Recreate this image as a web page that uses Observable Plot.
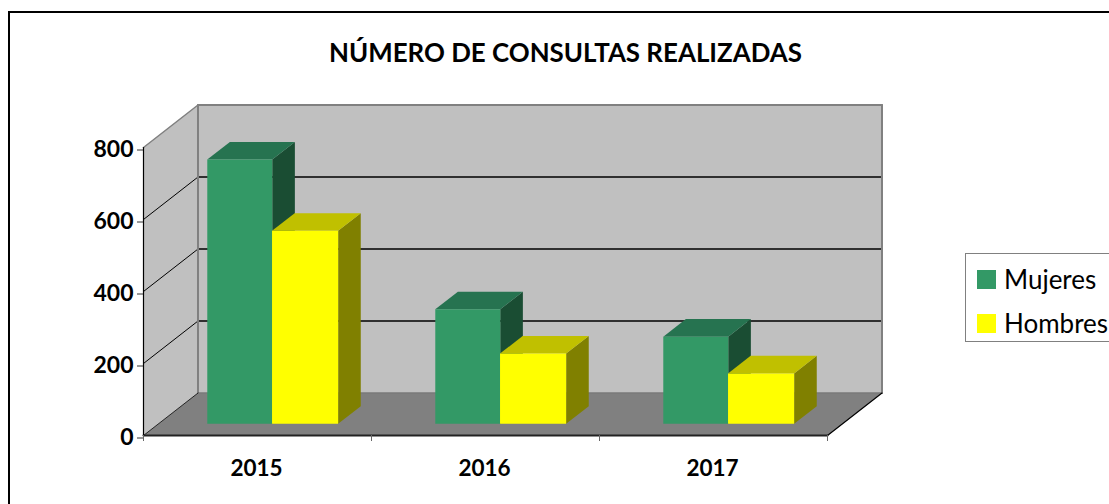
<!DOCTYPE html>
<html lang="es">
<head>
<meta charset="utf-8">
<script src="https://cdn.jsdelivr.net/npm/d3@7"></script>
<script src="https://cdn.jsdelivr.net/npm/@observablehq/plot@0.6"></script>
<style>
  html, body { margin: 0; padding: 0; background: #fff; overflow: hidden; }
  #frame { position: relative; width: 1109px; height: 504px; overflow: hidden; font-family: Lato, sans-serif; color: #000; }
  #edge { position: absolute; left: 8px; top: 11px; right: -4px; bottom: -4px; border: 2px solid #000; }
  #title { position: absolute; left: 0; top: 0; width: 1131px; height: 88px; line-height: 104px; text-align: center; font-weight: 700; font-size: 25.9px; }
  #chart { position: absolute; left: 0; top: 88px; }
  #legend { position: absolute; left: 965px; top: 253px; width: 160px; height: 89px; border: 1px solid #808080; background: #fff; box-sizing: border-box; font-size: 26px; }
  .key { position: absolute; left: 11px; display: flex; align-items: center; gap: 8px; height: 30px; white-space: nowrap; }
  .swatch { width: 19px; height: 19px; display: inline-block; }
</style>
</head>
<body>
<div id="frame">
  <div id="edge"></div>
  <div id="title">NÚMERO DE CONSULTAS REALIZADAS</div>
  <div id="chart"></div>
  <div id="legend"></div>
</div>
<script>
const categories = ["2015", "2016", "2017"];
const mujeres = [734, 318, 242];
const hombres = [536, 195, 140];
const tickValues = [0, 200, 400, 600, 800];
const seriesNames = ["Mujeres", "Hombres"];
const frontColors = ["#339966", "#ffff00"];
const topColors = ["#267350", "#c0c000"];
const sideColors = ["#1a4d33", "#808000"];

// Oblique projection: depth (0..1) shifts a point along x and y in data units.
const depthX = 0.239, depthY = 118;
const project = (x, v, d = 0) => ({x: x + d * depthX, y: v + d * depthY});
const barFront = 0.275, barBack = 0.69;
const barStart = 0.214, barWidth = 0.285;
const xMax = categories.length, vMax = tickValues[tickValues.length - 1];

const face = (pts, fill, stroke = "none", strokeWidth = 1) => Plot.line(
  [...pts, pts[0]], {x: "x", y: "y", fill, stroke, strokeWidth, curve: "linear"}
);
const edge = (a, b, stroke, strokeWidth = 1) => Plot.line([a, b], {x: "x", y: "y", stroke, strokeWidth});

function barMarks(cat, s, value) {
  const x0 = cat + barStart + s * barWidth - (s ? 0.001 : 0);
  const x1 = x0 + barWidth + (s ? 0.005 : 0);
  return [
    face([project(x1, 0, barFront), project(x1, 0, barBack), project(x1, value, barBack), project(x1, value, barFront)], sideColors[s]),
    face([project(x0, value, barFront), project(x1, value, barFront), project(x1, value, barBack), project(x0, value, barBack)], topColors[s]),
    face([project(x0, 0, barFront), project(x1, 0, barFront), project(x1, value, barFront), project(x0, value, barFront)], frontColors[s])
  ];
}

const wallMarks = [
  face([project(0, 0, 1), project(xMax, 0, 1), project(xMax, vMax, 1), project(0, vMax, 1)], "#c0c0c0"),
  face([project(0, 0, 0), project(0, 0, 1), project(0, vMax, 1), project(0, vMax, 0)], "#c0c0c0"),
  face([project(0, 0, 0), project(xMax, 0, 0), project(xMax, 0, 1), project(0, 0, 1)], "#808080"),
  ...tickValues.slice(1, -1).map(v => edge(project(0, v, 1), project(xMax, v, 1), "#000", 1.3)),
  ...tickValues.slice(1, -1).map(v => edge(project(0, v, 0), project(0, v, 1), "#000", 1)),
  edge(project(0, vMax, 0), project(0, vMax, 1), "#808080", 1.5),
  edge(project(0, vMax, 1), project(xMax, vMax, 1), "#808080", 2),
  edge(project(0, 0, 1), project(0, vMax, 1), "#808080", 2),
  edge(project(xMax, 0, 1), project(xMax, vMax, 1), "#808080", 2),
  edge(project(0, 0, 1), project(xMax, 0, 1), "#7a7a7a", 1.5),
  edge(project(xMax, 0, 0), project(xMax, 0, 1), "#000", 1.2),
  edge(project(0, 0, 0), project(0, 0, 1), "#000", 0.8)
];

const chart = Plot.plot({
  width: 1109,
  height: 416,
  marginLeft: 143,
  marginRight: 282,
  marginTop: 59,
  marginBottom: 69,
  x: {domain: [0, xMax]},
  y: {domain: [0, vMax]},
  style: {background: "transparent", overflow: "visible", fontFamily: "Lato, sans-serif", color: "#000"},
  marks: [
    ...wallMarks,
    ...categories.flatMap((c, i) => [...barMarks(i, 0, mujeres[i]), ...barMarks(i, 1, hombres[i])]),
    edge(project(0, 0), project(xMax, 0), "#222", 2),
    edge(project(0, 0), project(0, vMax), "#000", 1.2),
    Plot.axisY({ticks: tickValues, tickSize: 6, tickPadding: 4, stroke: "#333", fontSize: 23, fontWeight: 700, label: null, textStroke: "none", dy: 2.5}),
    Plot.axisX({ticks: d3.range(xMax + 1), tickSize: 6, stroke: "#666", tickFormat: () => "", label: null}),
    Plot.text(categories, {x: (d, i) => i + 0.5, y: () => 0, dx: -1, dy: 33, text: d => d, fontSize: 22.5, fontWeight: 700, fill: "#000"})
  ]
});
document.getElementById("chart").appendChild(chart);

const legend = document.getElementById("legend");
seriesNames.forEach((name, i) => {
  const row = document.createElement("div");
  row.className = "key";
  row.style.top = (10 + i * 44) + "px";
  const sw = document.createElement("span");
  sw.className = "swatch";
  sw.style.background = frontColors[i];
  row.appendChild(sw);
  row.appendChild(document.createTextNode(name));
  legend.appendChild(row);
});
</script>
</body>
</html>
